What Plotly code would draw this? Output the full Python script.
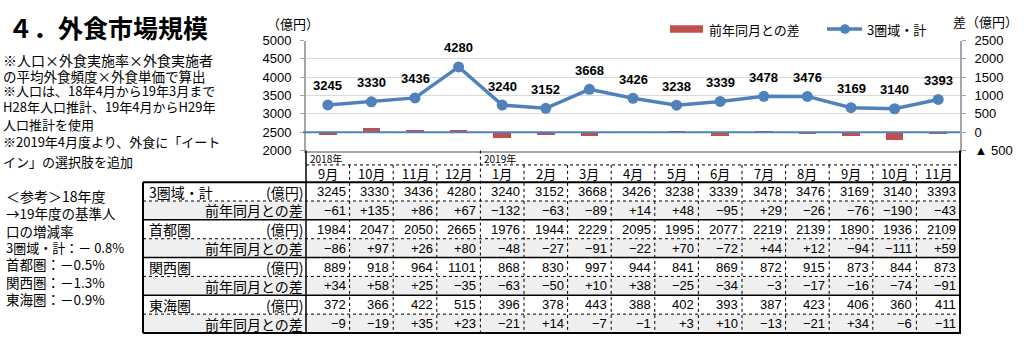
import plotly.graph_objects as go

# ---- data -------------------------------------------------------------
months = ["9月", "10月", "11月", "12月", "1月", "2月", "3月", "4月",
          "5月", "6月", "7月", "8月", "9月", "10月", "11月"]
year_labels = {0: "2018年", 4: "2019年"}

total = [3245, 3330, 3436, 4280, 3240, 3152, 3668, 3426, 3238, 3339, 3478, 3476, 3169, 3140, 3393]
total_diff = [-61, 135, 86, 67, -132, -63, -89, 14, 48, -95, 29, -26, -76, -190, -43]
shuto = [1984, 2047, 2050, 2665, 1976, 1944, 2229, 2095, 1995, 2077, 2219, 2139, 1890, 1936, 2109]
shuto_diff = [-86, 97, 26, 80, -48, -27, -91, -22, 70, -72, 44, 12, -94, -111, 59]
kansai = [889, 918, 964, 1101, 868, 830, 997, 944, 841, 869, 872, 915, 873, 844, 873]
kansai_diff = [34, 58, 25, -35, -63, -50, 10, 38, -25, -34, -3, -17, -16, -74, -91]
tokai = [372, 366, 422, 515, 396, 378, 443, 388, 402, 393, 387, 423, 406, 360, 411]
tokai_diff = [-9, -19, 35, 23, -21, 14, -7, -1, 3, 10, -13, -21, 34, -6, -11]

region_names = ["3圏域・計", "首都圏", "関西圏", "東海圏"]
region_values = [total, shuto, kansai, tokai]
region_diffs = [total_diff, shuto_diff, kansai_diff, tokai_diff]

left_ticks = [2000, 2500, 3000, 3500, 4000, 4500, 5000]
right_ticks = [-500, 0, 500, 1000, 1500, 2000, 2500]
right_ticktext = ["▲ 500", "0", "500", "1000", "1500", "2000", "2500"]

notes = [
    ("※人口×外食実施率×外食実施者", 55, 14),
    ("の平均外食頻度×外食単価で算出", 72, 13.5),
    ("※人口は、18年4月から19年3月まで", 87, 13),
    ("H28年人口推計、19年4月からH29年", 104, 13),
    ("人口推計を使用", 123, 13),
    ("※2019年4月度より、外食に「イート", 140, 13),
    ("イン」の選択肢を追加", 161, 13),
]
reference_notes = [
    ("＜参考＞18年度", 197, 14),
    ("→19年度の基準人", 215, 13.5),
    ("口の増減率", 234, 13.5),
    ("3圏域・計：－ 0.8%", 251, 13),
    ("首都圏：－0.5%", 269, 13.5),
    ("関西圏：－1.3%", 287, 13.5),
    ("東海圏：－0.9%", 305, 13.5),
]

# ---- geometry helpers --------------------------------------------------
W, H = 1024, 350
BLUE = "#4F81BD"
RED = "#C0504D"
JP = "Noto Sans CJK JP"
NUM = "Liberation Sans, Arial"


def px(x):
    return x / W


def py(y):
    return 1 - y / H


PLOT_L, PLOT_R, PLOT_T, PLOT_B = 306, 960, 35, 150
TABLE_L = 143
TABLE_TOP = 183
ROW_H = 19.7
TABLE_BOT = TABLE_TOP + 8 * ROW_H
YEAR_Y, YEAR_LINE, MONTH_Y = 158, 165, 174

n = len(months)
xs = list(range(n))

fig = go.Figure()

# year-on-year difference bars (right axis)
fig.add_trace(go.Bar(
    x=xs, y=total_diff, yaxis="y2", width=0.4,
    marker=dict(color=RED, line=dict(width=0)),
    hoverinfo="skip", showlegend=False,
))

# three-region total line (left axis)
fig.add_trace(go.Scatter(
    x=xs, y=total, mode="lines+markers",
    line=dict(color=BLUE, width=3.5),
    marker=dict(color=BLUE, size=11),
    hoverinfo="skip", showlegend=False,
))

annotations = []
shapes = []


def label(x, y, text, size, xanchor="left", family=JP, xref="paper", yref="paper", **kw):
    annotations.append(dict(
        x=x, y=y, xref=xref, yref=yref, xanchor=xanchor, yanchor="middle",
        showarrow=False, text=text, font=dict(family=family, size=size, color="black"), **kw,
    ))


# data labels above the line
for i, v in enumerate(total):
    label(i, v, f"<b>{v}</b>", 13, xanchor="center", family=NUM, xref="x", yref="y", yshift=19)

# axis titles
label(px(265), py(17), "（億円）", 13)
label(px(951), py(15), "差（億円）", 13)

# legend
shapes.append(dict(type="rect", xref="paper", yref="paper", x0=px(670), x1=px(703),
                   y0=py(27), y1=py(19), fillcolor=RED, line=dict(width=0)))
label(px(707), py(23), "前年同月との差", 13)
shapes.append(dict(type="line", xref="paper", yref="paper", x0=px(827), x1=px(862),
                   y0=py(23), y1=py(23), line=dict(color=BLUE, width=3.5)))
shapes.append(dict(type="circle", xref="paper", yref="paper", x0=px(840), x1=px(850),
                   y0=py(28), y1=py(18), fillcolor=BLUE, line=dict(width=0)))
label(px(865), py(23), "3圏域・計", 13)

# right-axis zero line (2500 on the left axis)
shapes.append(dict(type="line", xref="paper", yref="y2", x0=px(303), x1=px(PLOT_R),
                   y0=0, y1=0, line=dict(color=BLUE, width=2), layer="above"))

# title and notes
label(px(6), py(21), "<b>４．外食市場規模</b>", 25)
for text, y, size in notes:
    bg = "white" if text.startswith("※2019") else None
    label(px(2), py(y), text, size, bgcolor=bg, borderpad=0)
for text, y, size in reference_notes:
    label(px(4), py(y), text, size)

# ---- table -----------------------------------------------------------
def fmt_diff(d):
    return f"+{d}" if d > 0 else f"−{abs(d)}"


# shaded difference rows
for g in range(4):
    y0 = TABLE_TOP + (2 * g + 1) * ROW_H
    shapes.append(dict(type="rect", xref="paper", yref="paper", x0=px(TABLE_L), x1=px(PLOT_R),
                       y0=py(y0 + ROW_H), y1=py(y0), fillcolor="#EFEFEF",
                       line=dict(width=0), layer="below"))

# header: years and months
for i, lab in year_labels.items():
    label(i - 0.5, py(YEAR_Y), lab, 10, xref="x", xshift=2)
for i, m in enumerate(months):
    label(i, py(MONTH_Y), m, 13, xanchor="center", xref="x")

# row labels and values
for g, (name, vals, diffs) in enumerate(zip(region_names, region_values, region_diffs)):
    yv = TABLE_TOP + (2 * g + 0.5) * ROW_H
    yd = TABLE_TOP + (2 * g + 1.5) * ROW_H
    label(px(TABLE_L + 4), py(yv), name, 14)
    label(px(PLOT_L - 1), py(yv), "(億円)", 14, xanchor="right")
    label(px(PLOT_L - 1), py(yd), "前年同月との差", 14, xanchor="right")
    for i in range(n):
        label(i + 0.5, py(yv), str(vals[i]), 13, xanchor="right", family=NUM, xref="x", xshift=-2)
        label(i + 0.5, py(yd), fmt_diff(diffs[i]), 13, xanchor="right", family=NUM, xref="x", xshift=-2)

# table rules
dot = dict(color="black", width=1, dash="dot")
shapes.append(dict(type="line", xref="x", yref="paper", x0=-0.5, x1=n - 0.5,
                   y0=py(YEAR_LINE), y1=py(YEAR_LINE), line=dot))
for k in range(1, n):
    top = PLOT_B if k in year_labels else YEAR_LINE
    shapes.append(dict(type="line", xref="x", yref="paper", x0=k - 0.5, x1=k - 0.5,
                       y0=py(top), y1=py(TABLE_BOT), line=dot))
for g in range(4):
    yd = TABLE_TOP + (2 * g + 1) * ROW_H
    shapes.append(dict(type="line", xref="paper", yref="paper", x0=px(TABLE_L), x1=px(PLOT_R),
                       y0=py(yd), y1=py(yd), line=dot))
    if g > 0:
        ys = TABLE_TOP + 2 * g * ROW_H
        shapes.append(dict(type="line", xref="paper", yref="paper", x0=px(TABLE_L), x1=px(PLOT_R),
                           y0=py(ys), y1=py(ys), line=dict(color="black", width=1.5)))
for y in (TABLE_TOP, TABLE_BOT):
    shapes.append(dict(type="line", xref="paper", yref="paper", x0=px(TABLE_L), x1=px(PLOT_R + 1),
                       y0=py(y), y1=py(y), line=dict(color="black", width=2)))
shapes.append(dict(type="line", xref="paper", yref="paper", x0=px(TABLE_L), x1=px(TABLE_L),
                   y0=py(TABLE_TOP), y1=py(TABLE_BOT), line=dict(color="black", width=2)))
shapes.append(dict(type="line", xref="paper", yref="paper", x0=px(PLOT_L), x1=px(PLOT_L),
                   y0=py(PLOT_B), y1=py(TABLE_BOT), line=dict(color="black", width=1.5)))
shapes.append(dict(type="line", xref="paper", yref="paper", x0=px(PLOT_R), x1=px(PLOT_R),
                   y0=py(PLOT_B), y1=py(TABLE_BOT), line=dict(color="black", width=2)))

fig.update_layout(
    width=W, height=H,
    margin=dict(l=0, r=0, t=0, b=0),
    paper_bgcolor="white", plot_bgcolor="white",
    showlegend=False,
    bargap=0,
    xaxis=dict(
        domain=[px(PLOT_L), px(PLOT_R)], range=[-0.5, n - 0.5],
        showticklabels=False, ticks="", showgrid=False, zeroline=False,
        showline=True, linecolor="#A6A6A6", linewidth=2, fixedrange=True,
    ),
    yaxis=dict(
        domain=[py(PLOT_B), py(PLOT_T)], range=[2000, 5000],
        tickvals=left_ticks, ticks="outside", ticklen=4, tickcolor="#A6A6A6",
        showgrid=True, gridcolor="#D9D9D9", gridwidth=1, zeroline=False,
        showline=True, linecolor="#A6A6A6", linewidth=2,
        tickfont=dict(family=NUM, size=13, color="black"), ticklabelstandoff=6,
    ),
    yaxis2=dict(
        domain=[py(PLOT_B), py(PLOT_T)], range=[-500, 2500], overlaying="y", side="right",
        tickvals=right_ticks, ticktext=right_ticktext, ticks="outside", ticklen=4,
        tickcolor="#A6A6A6", showgrid=False, zeroline=False,
        showline=True, linecolor="#A6A6A6", linewidth=2,
        tickfont=dict(family=NUM, size=13, color="black"), ticklabelstandoff=6,
    ),
    annotations=annotations,
    shapes=shapes,
)

fig.write_html("out.html")
